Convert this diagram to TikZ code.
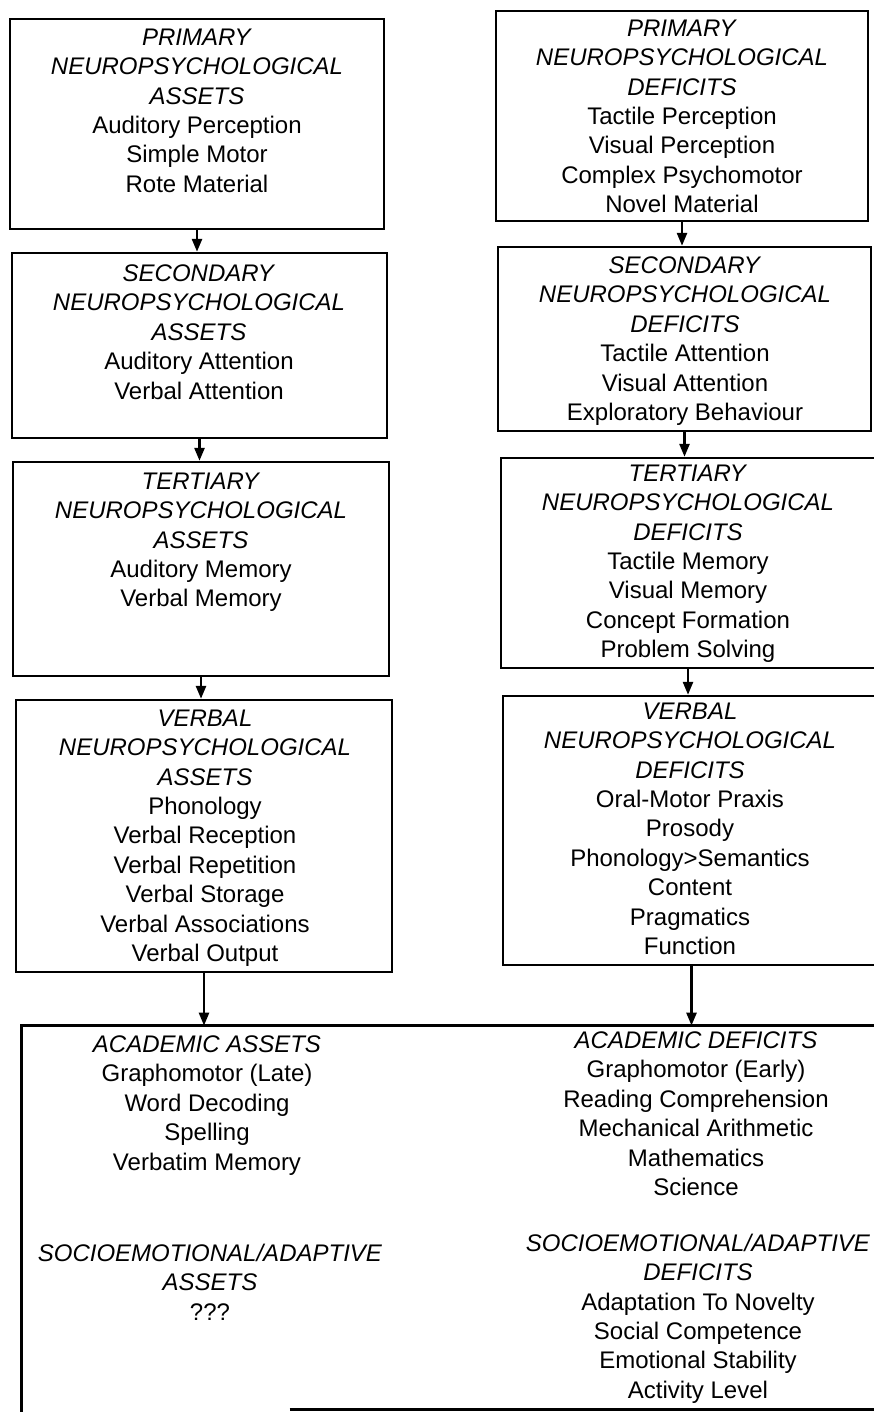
\documentclass[tikz,border=0pt]{standalone}
\usepackage{fontspec}
\setmainfont{Liberation Sans}
\usetikzlibrary{fit,arrows.meta}
\begin{document}
\begin{tikzpicture}[x=0.5pt,y=-0.5pt,
  box/.style={draw, line width=1.2pt, inner sep=0pt, rectangle},
  area/.style={inner sep=0pt, rectangle},
  edge/.style={line width=1.2pt},
  txt/.style={align=center, inner sep=0pt, anchor=north, font=\fontsize{12}{14.7}\selectfont},
  arr/.style={line width=1.3pt, -{Triangle[length=6.5pt,width=5pt]}}]
\useasboundingbox (0,0) rectangle (873,1412);

% left column
\node[box, fit={(10,19) (384,229)}] (L1) {};
\node[box, fit={(12,253) (387,438)}] (L2) {};
\node[box, fit={(13,462) (389,676)}] (L3) {};
\node[box, fit={(16,700) (392,972)}] (L4) {};
% right column
\node[box, fit={(496,11) (868,221)}] (R1) {};
\node[box, fit={(498,247) (871,431)}] (R2) {};
\node[box, fit={(501,458) (875,668)}] (R3) {};
\node[box, fit={(503,696) (880,965)}] (R4) {};
% bottom box (open at the lower left, cut at the right)
\node[area, fit={(22,1026) (885,1409)}] (B) {};
\draw[edge] (B.north east) -- (B.north west) -- ([yshift=-3pt]B.south west);
\draw[edge] ([xshift=134pt]B.south west) -- (B.south east);

% texts
\node[txt] (L1t) at (197,28.4) {\textit{PRIMARY}\\\textit{NEUROPSYCHOLOGICAL}\\\textit{ASSETS}\\Auditory Perception\\Simple Motor\\Rote Material};
\node[txt] (L2t) at (199,264.4) {\textit{SECONDARY}\\\textit{NEUROPSYCHOLOGICAL}\\\textit{ASSETS}\\Auditory Attention\\Verbal Attention};
\node[txt] (L3t) at (201,472.4) {\textit{TERTIARY}\\\textit{NEUROPSYCHOLOGICAL}\\\textit{ASSETS}\\Auditory Memory\\Verbal Memory};
\node[txt] (L4t) at (205,709.4) {\textit{VERBAL}\\\textit{NEUROPSYCHOLOGICAL}\\\textit{ASSETS}\\Phonology\\Verbal Reception\\Verbal Repetition\\Verbal Storage\\Verbal Associations\\Verbal Output};

\node[txt] (R1t) at (682,19.4) {\textit{PRIMARY}\\\textit{NEUROPSYCHOLOGICAL}\\\textit{DEFICITS}\\Tactile Perception\\Visual Perception\\Complex Psychomotor\\Novel Material};
\node[txt] (R2t) at (685,256.4) {\textit{SECONDARY}\\\textit{NEUROPSYCHOLOGICAL}\\\textit{DEFICITS}\\Tactile Attention\\Visual Attention\\Exploratory Behaviour};
\node[txt] (R3t) at (688,464.4) {\textit{TERTIARY}\\\textit{NEUROPSYCHOLOGICAL}\\\textit{DEFICITS}\\Tactile Memory\\Visual Memory\\Concept Formation\\Problem Solving};
\node[txt] (R4t) at (690,702.4) {\textit{VERBAL}\\\textit{NEUROPSYCHOLOGICAL}\\\textit{DEFICITS}\\Oral-Motor Praxis\\Prosody\\Phonology>Semantics\\Content\\Pragmatics\\Function};

\node[txt] (BL1) at (207,1035.4) {\textit{ACADEMIC ASSETS}\\Graphomotor (Late)\\Word Decoding\\Spelling\\Verbatim Memory};
\node[txt] (BL2) at (210,1243.4) {\textit{SOCIOEMOTIONAL/ADAPTIVE}\\\textit{ASSETS}\\???};
\node[txt] (BR1) at (696,1031.4) {\textit{ACADEMIC DEFICITS}\\Graphomotor (Early)\\Reading Comprehension\\Mechanical Arithmetic\\Mathematics\\Science};
\node[txt] (BR2) at (698,1233.4) {\textit{SOCIOEMOTIONAL/ADAPTIVE}\\\textit{DEFICITS}\\Adaptation To Novelty\\Social Competence\\Emotional Stability\\Activity Level};

% connectors
\draw[arr] (L1.south) -- (L1.south |- L2.north);
\draw[arr] (L2.south) -- (L2.south |- L3.north);
\draw[arr] (L3.south) -- (L3.south |- L4.north);
\draw[arr] (L4.south) -- (L4.south |- B.north);
\draw[arr] (R1.south) -- (R1.south |- R2.north);
\draw[arr] (R2.south) -- (R2.south |- R3.north);
\draw[arr] (R3.south) -- (R3.south |- R4.north);
\draw[arr] (R4.south) -- (R4.south |- B.north);
\end{tikzpicture}
\end{document}
